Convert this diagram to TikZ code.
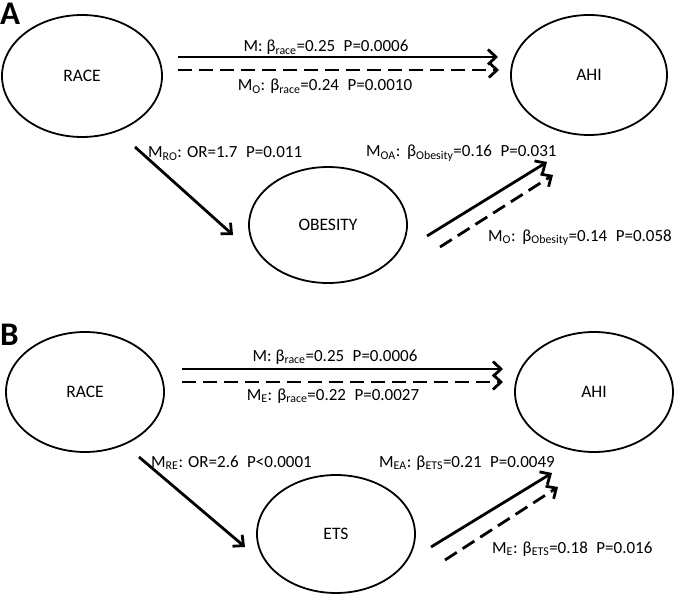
\documentclass[tikz,border=0pt]{standalone}
\usepackage{fontspec}
\setmainfont{Carlito}
\usetikzlibrary{shapes.geometric,arrows.meta}

\tikzset{
	var/.style={draw, ellipse, line width=1.8pt, inner sep=0pt, font=\fontsize{17.5}{21}\selectfont},
	lbl/.style={inner sep=0pt, font=\fontsize{17}{20}\selectfont},
	panel/.style={inner sep=0pt, font=\fontsize{33}{36}\selectfont\bfseries},
	link/.style={line width=2.8pt, -{Straight Barb[length=8pt,width=15pt]}},
	dlink/.style={link, dash pattern=on 14pt off 7pt}
}

\begin{document}
\begin{tikzpicture}[x=1pt, y=-1pt]
	\useasboundingbox (0,0) rectangle (674,596);
	% panel A
	\node[panel, anchor=base west] (tagA) at (0,25) {A};
	\node[var, minimum width=160pt, minimum height=122pt] (raceA) at (82,76) {RACE};
	\node[var, minimum width=156pt, minimum height=120pt] (ahiA) at (589,75) {AHI};
	\node[var, minimum width=158pt, minimum height=116pt] (obesity) at (328,225) {OBESITY};
		\coordinate (mA1) at (178,57);  \coordinate (mA2) at (498,57);
		\coordinate (moA1) at (178,70); \coordinate (moA2) at (499,70);
		\coordinate (ro1) at (135,147); \coordinate (ro2) at (233,235);
		\coordinate (oa1) at (427,236); \coordinate (oa2) at (547,162);
		\coordinate (oo1) at (440,247); \coordinate (oo2) at (553,175);
		\draw[link] (mA1) -- (mA2);
		\draw[dlink] (moA1) -- (moA2);
		\draw[link] (ro1) -- (ro2);
		\draw[link] (oa1) -- (oa2);
		\draw[dlink] (oo1) -- (oo2);
	\node[lbl, anchor=base] (lmA) at (326,52) {M: β\textsubscript{race}=0.25\enspace P=0.0006};
	\node[lbl, anchor=base] (lmoA) at (325,91) {M\textsubscript{O}: β\textsubscript{race}=0.24\enspace P=0.0010};
	\node[lbl, anchor=base west] (lro) at (148,158) {M\textsubscript{RO}: OR=1.7\enspace P=0.011};
	\node[lbl, anchor=base west] (loa) at (366,157) {M\textsubscript{OA}:\ \,β\textsubscript{Obesity}=0.16\enspace P=0.031};
	\node[lbl, anchor=base west] (loo) at (488,241) {M\textsubscript{O}:\ \,β\textsubscript{Obesity}=0.14\enspace P=0.058};
	% panel B
	\node[panel, anchor=base west] (tagB) at (0,345) {B};
	\node[var, minimum width=158pt, minimum height=120pt] (raceB) at (85,392) {RACE};
	\node[var, minimum width=158pt, minimum height=120pt] (ahiB) at (594,392) {AHI};
	\node[var, minimum width=158pt, minimum height=118pt] (ets) at (336,534) {ETS};
		\coordinate (mB1) at (182,369); \coordinate (mB2) at (503,369);
		\coordinate (meB1) at (182,382); \coordinate (meB2) at (503,382);
		\coordinate (re1) at (139,457); \coordinate (re2) at (245,547);
		\coordinate (ea1) at (431,547); \coordinate (ea2) at (552,473);
		\coordinate (ee1) at (445,560); \coordinate (ee2) at (558,487);
		\draw[link] (mB1) -- (mB2);
		\draw[dlink] (meB1) -- (meB2);
		\draw[link] (re1) -- (re2);
		\draw[link] (ea1) -- (ea2);
		\draw[dlink] (ee1) -- (ee2);
	\node[lbl, anchor=base] (lmB) at (335,361) {M: β\textsubscript{race}=0.25\enspace P=0.0006};
	\node[lbl, anchor=base] (lmeB) at (333,400) {M\textsubscript{E}: β\textsubscript{race}=0.22\enspace P=0.0027};
	\node[lbl, anchor=base west] (lre) at (151,467) {M\textsubscript{RE}: OR=2.6\enspace P<0.0001};
	\node[lbl, anchor=base west] (lea) at (379,467) {M\textsubscript{EA}: β\textsubscript{ETS}=0.21\enspace P=0.0049};
	\node[lbl, anchor=base west] (lee) at (492,553) {M\textsubscript{E}: β\textsubscript{ETS}=0.18\enspace P=0.016};
\end{tikzpicture}
\end{document}
